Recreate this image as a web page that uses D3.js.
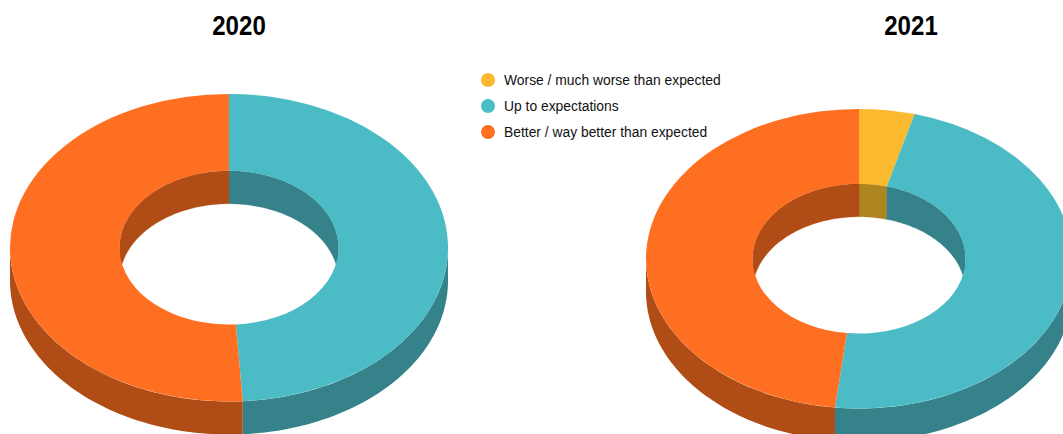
<!DOCTYPE html>
<html><head><meta charset="utf-8">
<script src="https://cdn.jsdelivr.net/npm/d3@7"></script>
<style>html,body{margin:0;padding:0;background:#fff;overflow:hidden}svg{display:block}</style>
</head><body>
<svg id="c" width="1063" height="434"></svg>
<script>
const categories = ["Worse / much worse than expected","Up to expectations","Better / way better than expected"];
const colours = ["#FBB92F","#4BBCC5","#FF6F21"];
const darkColours = ["#AE851F","#35828A","#B04D16"];
const years = ["2020","2021"];
const values2020 = [0,49,51];
const values2021 = [4.2,47.6,48.2];

const svg = d3.select("#c");
const pie = d3.pie().sort(null).value(d=>d);
const line = d3.line();

function clipRange(a0,a1,lo,hi){ const s=Math.max(a0,lo), e=Math.min(a1,hi); return s<e?[s,e]:null; }
function ell(cx,cy,rx,ry,a){ return [cx+rx*Math.sin(a), cy-ry*Math.cos(a)]; }
function wall(cx,cy,rx,ry,depth,r){
  const angles = d3.range(0,61).map(i=>r[0]+(r[1]-r[0])*i/60);
  const top = angles.map(a=>ell(cx,cy,rx,ry,a));
  const bottom = angles.slice().reverse().map(a=>ell(cx,cy+depth,rx,ry,a));
  return line(top.concat(bottom))+"Z";
}
function donut(title,values,g){
  const arcs = pie(values);
  const group = svg.append("g");
  const P=Math.PI;
  arcs.forEach((d,i)=>{
    [[0,P/2],[1.5*P,2*P]].forEach(([lo,hi])=>{
      const r=clipRange(d.startAngle,d.endAngle,lo,hi);
      if(r) group.append("path").attr("d",wall(g.cx,g.cy,g.rx*g.k,g.ry*g.k,g.depth,r))
        .attr("fill",darkColours[i]).attr("stroke",darkColours[i]).attr("stroke-width",.3);
    });
  });
  arcs.forEach((d,i)=>{
    const r=clipRange(d.startAngle,d.endAngle,P/2,1.5*P);
    if(r) group.append("path").attr("d",wall(g.cx,g.cy,g.rx,g.ry,g.depth,r)).attr("fill",darkColours[i]);
  });
  const arc=d3.arc().outerRadius(g.rx).innerRadius(g.rx*g.k);
  group.append("g").attr("transform",`translate(${g.cx},${g.cy}) scale(1,${g.ry/g.rx})`)
    .selectAll("path").data(arcs).join("path").attr("d",arc).attr("fill",(d,i)=>colours[i]);
  svg.append("text").attr("transform",`translate(${g.tx},34.5) scale(.86,1)`).attr("text-anchor","middle")
    .attr("font-family","'Liberation Sans',Arial,sans-serif")
    .attr("font-weight","bold").attr("font-size",28).attr("fill","#000").text(title);
}
donut(years[0],values2020,{cx:229,cy:247.7,rx:219,ry:153.8,k:.5,depth:33,tx:239});
donut(years[1],values2021,{cx:859,cy:258.7,rx:213,ry:149.8,k:.5,depth:33,tx:911});

const legendY = d3.scalePoint().domain(categories).range([80,132]);
const legend = svg.append("g").selectAll("g").data(categories).join("g")
  .attr("transform",d=>`translate(488,${legendY(d)})`);
legend.append("circle").attr("r",7).attr("fill",(d,i)=>colours[i]);
legend.append("text").attr("x",16).attr("y",5)
  .attr("font-family","'Liberation Sans',Arial,sans-serif").attr("font-size",13.85).attr("fill","#111").text(d=>d);
</script>
</body></html>
